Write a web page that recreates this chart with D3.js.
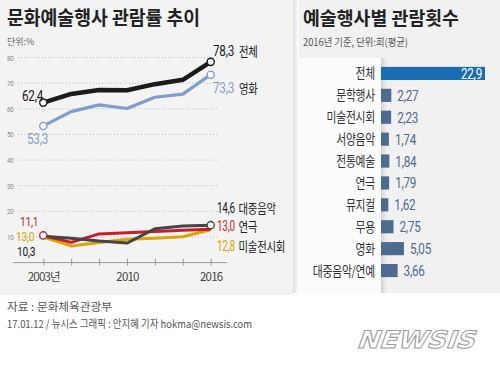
<!DOCTYPE html>
<html>
<head>
<meta charset="utf-8">
<script src="https://cdn.jsdelivr.net/npm/d3@7"></script>
<style>
  body { margin: 0; background: #fff; }
  svg { display: block; }
  .kr { font-family: "Noto Sans CJK KR", "Noto Sans", sans-serif; }
  .num { font-family: "Roboto", "Liberation Sans", sans-serif; }
</style>
</head>
<body>
<div id="chart"></div>
<script>
// line chart data (관람률, %)
const years = ["2003", "2006", "2008", "2010", "2012", "2014", "2016"];
const yearLabels = { "2003": "2003년", "2010": "2010", "2016": "2016" };
const yTicks = [10, 20, 30, 40, 50, 60, 70, 80];
const total = [62.4, 65.8, 67.3, 67.2, 69.6, 71.3, 78.3];
const movie = [53.3, 58.9, 61.5, 60.1, 64.5, 65.7, 73.3];
const popMusic = [10.3, 9.5, 8.4, 7.6, 13.2, 14.3, 14.6];
const theater = [10.6, 7.9, 11.2, 11.6, 12.1, 12.6, 13.0];
const artShow = [10.0, 6.5, 7.8, 9.1, 9.5, 10.1, 12.8];

// bar chart data (관람횟수, 회)
const events = ["전체", "문학행사", "미술전시회", "서양음악", "전통예술", "연극", "뮤지컬", "무용", "영화", "대중음악/연예"];
const counts = [22.9, 2.27, 2.23, 1.74, 1.84, 1.79, 1.62, 2.75, 5.05, 3.66];

const W = 500, H = 373;
const svg = d3.select("#chart").append("svg").attr("width", W).attr("height", H);

const defs = svg.append("defs");
const sh = defs.append("linearGradient").attr("id", "shadowR");
sh.append("stop").attr("offset", "0").attr("stop-color", "#000").attr("stop-opacity", 0.13);
sh.append("stop").attr("offset", "1").attr("stop-color", "#000").attr("stop-opacity", 0);
const shB = defs.append("linearGradient").attr("id", "shadowB").attr("x1", 0).attr("y1", 0).attr("x2", 0).attr("y2", 1);
shB.append("stop").attr("offset", "0").attr("stop-color", "#000").attr("stop-opacity", 0.08);
shB.append("stop").attr("offset", "1").attr("stop-color", "#000").attr("stop-opacity", 0);

// panels
svg.append("rect").attr("x", 0).attr("y", 0).attr("width", 293).attr("height", 293).attr("fill", "#f3f3f3");
svg.append("rect").attr("x", 293).attr("y", 0).attr("width", 6).attr("height", 293).attr("fill", "url(#shadowR)");
svg.append("rect").attr("x", 0).attr("y", 293).attr("width", 293).attr("height", 3).attr("fill", "url(#shadowB)");
svg.append("rect").attr("x", 299).attr("y", 0).attr("width", 201).attr("height", 293).attr("fill", "#f1f1f1");
svg.append("rect").attr("x", 299).attr("y", 58).attr("width", 82).attr("height", 235).attr("fill", "#fbfbfb");
svg.append("rect").attr("x", 381).attr("y", 58).attr("width", 6).attr("height", 235).attr("fill", "url(#shadowR)");

// condensed text helper
function condText(cls, px, py, t, col, size, sx, anchor) {
  return svg.append("text").attr("class", cls)
    .attr("transform", `translate(${px},${py}) scale(${sx},1)`)
    .attr("text-anchor", anchor || "start")
    .attr("font-size", size).attr("fill", col).attr("letter-spacing", -0.3).text(t);
}
function numText(px, py, t, col, size, anchor, sx) {
  return condText("num", px, py, t, col, size || 14, sx || 0.78, anchor);
}
function krText(px, py, t, size, anchor) {
  return condText("kr", px, py, t, "#222", size, 0.8, anchor);
}
function fmt(v, n) { return d3.format(`.${n || 1}f`)(v).replace(".", ","); }

// ---------- line chart ----------
const x = d3.scalePoint().domain(years).range([43.3, 210.7]);
const y = d3.scaleLinear().domain([0, 80]).range([262.6, 57.5]);

svg.append("text").attr("class", "kr").attr("x", 7).attr("y", 25)
  .attr("font-size", 19.5).attr("font-weight", "bold").attr("fill", "#222")
  .attr("textLength", 193).attr("lengthAdjust", "spacingAndGlyphs")
  .text("문화예술행사 관람률 추이");
svg.append("text").attr("class", "kr").attr("x", 7).attr("y", 45)
  .attr("font-size", 9).attr("fill", "#666").text("단위:%");

const grid = svg.append("g");
yTicks.forEach((t) => {
  grid.append("line").attr("x1", 18).attr("x2", 218).attr("y1", y(t)).attr("y2", y(t))
    .attr("stroke", "#aaa").attr("stroke-width", 0.8).attr("stroke-dasharray", "1,2");
  numText(7, y(t) + 3, t, "#888", 8);
});

const xAxis = svg.append("g").attr("transform", `translate(0,${y(0)})`)
  .call(d3.axisBottom(x).tickSize(4).tickFormat((d) => yearLabels[d] || ""));
xAxis.select(".domain").attr("d", "M13,0H227").attr("stroke", "#999");
xAxis.selectAll(".tick line").attr("y1", -4).attr("y2", 3).attr("stroke", "#999");
xAxis.selectAll(".tick text").attr("class", "kr").attr("dy", 0).attr("y", 18)
  .attr("font-size", 11.5).attr("fill", "#444").attr("letter-spacing", -0.8);

const line = d3.line().x((d, i) => x(years[i])).y((d) => y(d));

const series = [
  { v: artShow, c: "#dba400", w: 3 },
  { v: theater, c: "#c81c2c", w: 3 },
  { v: popMusic, c: "#454545", w: 3 },
  { v: movie, c: "#7f9dcd", w: 3.2 },
  { v: total, c: "#1c1a1a", w: 4.5 }
];
series.forEach((s) => {
  svg.append("path").datum(s.v).attr("d", line).attr("fill", "none")
    .attr("stroke", s.c).attr("stroke-width", s.w).attr("stroke-linejoin", "round");
});

const dots = [
  { v: total[0], yr: "2003", c: "#1c1a1a" },
  { v: total[6], yr: "2016", c: "#1c1a1a" },
  { v: movie[0], yr: "2003", c: "#7f9dcd" },
  { v: movie[6], yr: "2016", c: "#7f9dcd" },
  { v: theater[0], yr: "2003", c: "#c81c2c" },
  { v: popMusic[6], yr: "2016", c: "#454545" }
];
svg.selectAll(".dot").data(dots).enter().append("circle")
  .attr("cx", (d) => x(d.yr)).attr("cy", (d) => y(d.v)).attr("r", 3.6)
  .attr("fill", "#fff").attr("stroke", (d) => d.c).attr("stroke-width", 1.4);

// start labels
numText(22, 101, fmt(total[0]), "#1c1a1a", 15);
numText(27, 144, fmt(movie[0]), "#7f9dcd", 15);
numText(20, 226, "11,1", "#c81c2c", 12.5, "start", 0.82);
numText(16, 241, "13,0", "#dba400", 12.5, "start", 0.82);
numText(17, 256, "10,3", "#1c1a1a", 12.5, "start", 0.82);
// end labels
numText(213, 56, fmt(total[6]), "#1c1a1a", 15);
krText(239, 56, "전체", 13);
numText(213, 93, fmt(movie[6]), "#7f9dcd", 15);
krText(239, 93, "영화", 13);
numText(217, 213, fmt(popMusic[6]), "#1c1a1a", 15, "start", 0.66);
krText(238.5, 213, "대중음악", 13);
numText(217, 231, fmt(theater[6]), "#c81c2c", 15, "start", 0.66);
krText(238.5, 231, "연극", 13);
numText(217, 251, fmt(artShow[6]), "#dba400", 15, "start", 0.66);
krText(238.5, 251, "미술전시회", 13);

// ---------- bar chart ----------
svg.append("text").attr("class", "kr").attr("x", 303).attr("y", 25)
  .attr("font-size", 18.5).attr("font-weight", "bold").attr("fill", "#222")
  .attr("textLength", 156).attr("lengthAdjust", "spacingAndGlyphs")
  .text("예술행사별 관람횟수");
svg.append("text").attr("class", "kr").attr("x", 303).attr("y", 46)
  .attr("font-size", 10).attr("fill", "#555")
  .attr("textLength", 105).attr("lengthAdjust", "spacingAndGlyphs")
  .text("2016년 기준, 단위:회(평균)");

const bx = d3.scaleLinear().domain([0, 22.9]).range([381, 485]);
const by = d3.scaleBand().domain(events).range([62.5, 281.5]).paddingInner(0.4).paddingOuter(0.2);

svg.selectAll(".bar").data(events).enter().append("rect")
  .attr("x", bx(0)).attr("y", (d) => by(d))
  .attr("width", (d, i) => bx(counts[i]) - bx(0)).attr("height", by.bandwidth())
  .attr("fill", (d, i) => (i === 0 ? "#1b6db3" : "#4b6b91"));

events.forEach((d, i) => {
  const cy = by(d) + by.bandwidth() / 2;
  condText("kr", 375, cy + 5, d, "#333", 13.5, 0.8, "end");
  if (i === 0) numText(bx(counts[i]) - 3, cy + 5.5, fmt(counts[i]), "#fff", 15, "end");
  else numText(bx(counts[i]) + 6, cy + 5.5, fmt(counts[i], 2), "#4b6b91", 15);
});

// ---------- footer ----------
svg.append("text").attr("class", "kr").attr("x", 7).attr("y", 311)
  .attr("font-size", 11).attr("fill", "#555")
  .attr("textLength", 105).attr("lengthAdjust", "spacingAndGlyphs").text("자료 : 문화체육관광부");
svg.append("text").attr("class", "kr").attr("x", 7).attr("y", 328)
  .attr("font-size", 11).attr("fill", "#555")
  .attr("textLength", 245).attr("lengthAdjust", "spacingAndGlyphs")
  .text("17.01.12 / 뉴시스 그래픽 : 안지혜 기자 hokma@newsis.com");

svg.append("text").attr("x", 0).attr("y", 0)
  .attr("transform", "translate(356,348) skewX(-20)")
  .attr("font-family", "DejaVu Sans").attr("font-weight", "bold")
  .attr("font-size", 24).attr("textLength", 118).attr("lengthAdjust", "spacingAndGlyphs")
  .attr("fill", "#fff").attr("stroke", "#999").attr("stroke-width", 1)
  .text("NEWSIS");
</script>
</body>
</html>
